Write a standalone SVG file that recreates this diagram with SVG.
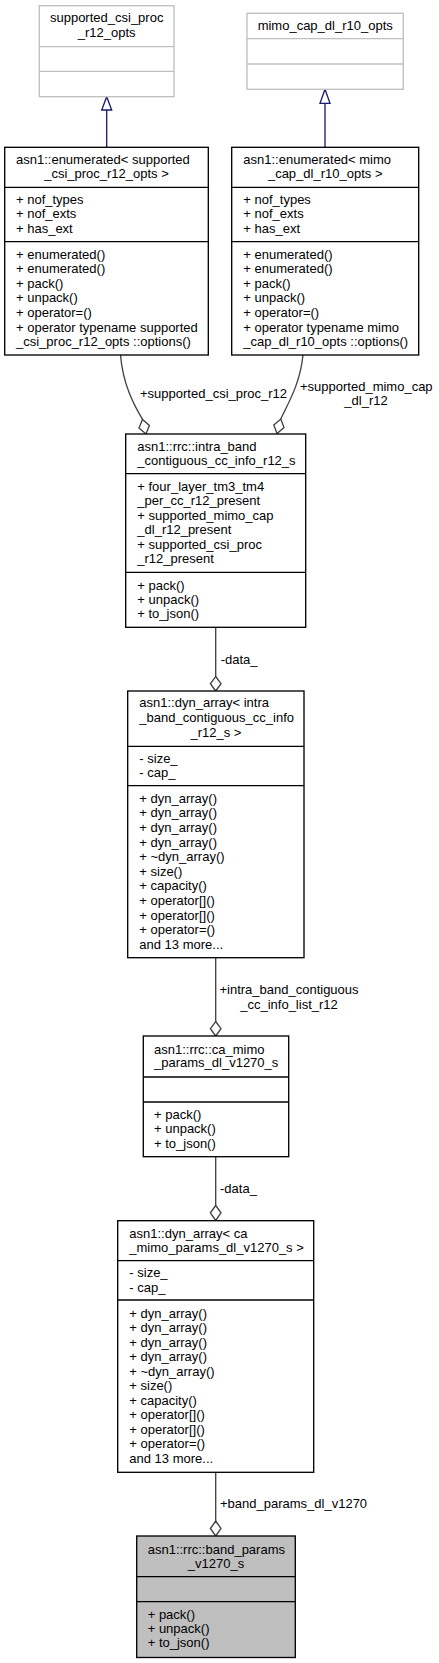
<svg xmlns="http://www.w3.org/2000/svg" width="439" height="1663" viewBox="0 0 439 1663">
<style>
text{font-family:"Liberation Sans",Arial,sans-serif;font-size:13px;fill:#000}
.m{text-anchor:middle}
.box{fill:#fff;stroke:#000;stroke-width:1.33}
.gbox{fill:#fff;stroke:#bfbfbf;stroke-width:1.33}
.cur{fill:#bfbfbf;stroke:#000;stroke-width:1.33}
.sep{stroke:#000;stroke-width:1.33}
.gsep{stroke:#bfbfbf;stroke-width:1.33}
.e{fill:none;stroke:#404040;stroke-width:1.33}
.d{fill:#fff;stroke:#404040;stroke-width:1.33}
.inh{fill:none;stroke:#191970;stroke-width:1.33}
.tri{fill:#fff;stroke:#191970;stroke-width:1.33}
</style>
<rect width="439" height="1663" fill="#fff"/>
<g id="connectors">
<line class="inh" x1="106.7" y1="110" x2="106.7" y2="147.3"/>
<polygon class="tri" points="106.7,96.7 111.7,110 101.7,110"/>
<line class="inh" x1="325" y1="103.3" x2="325" y2="147.3"/>
<polygon class="tri" points="325,89.3 330,103.3 320,103.3"/>
<path class="e" d="M120.5,355 C123,385 134,405 142.5,419.4"/>
<polygon class="d" points="146,434 149.4,425.4 142.5,419.4 139,428"/>
<text x="140" y="398">+supported_csi_proc_r12</text>
<path class="e" d="M303,355 C300,385 287,405 280.8,419"/>
<polygon class="d" points="277,433.5 273.8,424.9 280.8,419 284,427.5"/>
<text class="m" x="366.3" y="391.3">+supported_mimo_cap</text>
<text class="m" x="366" y="405.3">_dl_r12</text>
<line class="e" x1="215.7" y1="627.3" x2="215.7" y2="676.5"/>
<polygon class="d" points="215.7,676.5 221,683.7 215.7,691 210.4,683.7"/>
<text x="220.7" y="664">-data_</text>
<line class="e" x1="215.7" y1="957.7" x2="215.7" y2="1021.5"/>
<polygon class="d" points="215.7,1021.5 221,1028.7 215.7,1036 210.4,1028.7"/>
<text class="m" x="289" y="994">+intra_band_contiguous</text>
<text class="m" x="289" y="1008.7">_cc_info_list_r12</text>
<line class="e" x1="215.7" y1="1156.7" x2="215.7" y2="1205.5"/>
<polygon class="d" points="215.7,1205.5 221,1212.8 215.7,1220.5 210.4,1212.8"/>
<text x="220" y="1193">-data_</text>
<line class="e" x1="215.7" y1="1472.3" x2="215.7" y2="1521"/>
<polygon class="d" points="215.7,1521 221,1528.5 215.7,1536 210.4,1528.5"/>
<text x="220" y="1508">+band_params_dl_v1270</text>
</g>
<g id="supported_csi_proc_r12_opts">
<rect class="gbox" x="39.3" y="5.7" width="134.7" height="91"/>
<line class="gsep" x1="39.3" y1="46.7" x2="174" y2="46.7"/>
<line class="gsep" x1="39.3" y1="71.3" x2="174" y2="71.3"/>
<text class="m" x="106.7" y="22.3">supported_csi_proc</text>
<text class="m" x="106.7" y="37.3">_r12_opts</text>
</g>
<g id="mimo_cap_dl_r10_opts">
<rect class="gbox" x="247" y="13.3" width="156.3" height="76"/>
<line class="gsep" x1="247" y1="38.7" x2="403.3" y2="38.7"/>
<line class="gsep" x1="247" y1="64" x2="403.3" y2="64"/>
<text class="m" x="325.2" y="29.7">mimo_cap_dl_r10_opts</text>
</g>
<g id="enum_supported_csi_proc">
<rect class="box" x="4.7" y="147.3" width="203.6" height="207.7"/>
<line class="sep" x1="4.7" y1="187.3" x2="208.3" y2="187.3"/>
<line class="sep" x1="4.7" y1="241.7" x2="208.3" y2="241.7"/>
<text x="16" y="163.5">asn1::enumerated&lt; supported</text>
<text class="m" x="106.5" y="178.2">_csi_proc_r12_opts &gt;</text>
<text x="16" y="203.5">+ nof_types</text>
<text x="16" y="217.8">+ nof_exts</text>
<text x="16" y="232.8">+ has_ext</text>
<text x="16" y="258.5">+ enumerated()</text>
<text x="16" y="273.1">+ enumerated()</text>
<text x="16" y="287.7">+ pack()</text>
<text x="16" y="302.3">+ unpack()</text>
<text x="16" y="316.9">+ operator=()</text>
<text x="16" y="331.5">+ operator typename supported</text>
<text x="16" y="346.1">_csi_proc_r12_opts ::options()</text>
</g>
<g id="enum_mimo_cap_dl_r10">
<rect class="box" x="231.7" y="147.3" width="187" height="207.7"/>
<line class="sep" x1="231.7" y1="187.3" x2="418.7" y2="187.3"/>
<line class="sep" x1="231.7" y1="241.7" x2="418.7" y2="241.7"/>
<text x="243.3" y="163.5">asn1::enumerated&lt; mimo</text>
<text class="m" x="325.2" y="178.2">_cap_dl_r10_opts &gt;</text>
<text x="243.3" y="203.5">+ nof_types</text>
<text x="243.3" y="217.8">+ nof_exts</text>
<text x="243.3" y="232.8">+ has_ext</text>
<text x="243.3" y="258.5">+ enumerated()</text>
<text x="243.3" y="273.1">+ enumerated()</text>
<text x="243.3" y="287.7">+ pack()</text>
<text x="243.3" y="302.3">+ unpack()</text>
<text x="243.3" y="316.9">+ operator=()</text>
<text x="243.3" y="331.5">+ operator typename mimo</text>
<text x="243.3" y="346.1">_cap_dl_r10_opts ::options()</text>
</g>
<g id="intra_band_contiguous_cc_info_r12_s">
<rect class="box" x="125.7" y="434" width="180" height="193.3"/>
<line class="sep" x1="125.7" y1="473.7" x2="305.7" y2="473.7"/>
<line class="sep" x1="125.7" y1="572.3" x2="305.7" y2="572.3"/>
<text x="137.3" y="450.5">asn1::rrc::intra_band</text>
<text x="137.3" y="464.5">_contiguous_cc_info_r12_s</text>
<text x="137.3" y="490.5">+ four_layer_tm3_tm4</text>
<text x="137.3" y="505.2">_per_cc_r12_present</text>
<text x="137.3" y="519.5">+ supported_mimo_cap</text>
<text x="137.3" y="533.8">_dl_r12_present</text>
<text x="137.3" y="548.5">+ supported_csi_proc</text>
<text x="137.3" y="563.2">_r12_present</text>
<text x="137.3" y="589.5">+ pack()</text>
<text x="137.3" y="603.5">+ unpack()</text>
<text x="137.3" y="617.8">+ to_json()</text>
</g>
<g id="dyn_array_intra_band">
<rect class="box" x="127.7" y="691" width="176.3" height="266.7"/>
<line class="sep" x1="127.7" y1="746.3" x2="304" y2="746.3"/>
<line class="sep" x1="127.7" y1="785.7" x2="304" y2="785.7"/>
<text x="139.3" y="707.2">asn1::dyn_array&lt; intra</text>
<text x="139.3" y="722.2">_band_contiguous_cc_info</text>
<text class="m" x="215.9" y="737.2">_r12_s &gt;</text>
<text x="139.3" y="762.5">- size_</text>
<text x="139.3" y="777.2">- cap_</text>
<text x="139.3" y="802.8">+ dyn_array()</text>
<text x="139.3" y="817.4">+ dyn_array()</text>
<text x="139.3" y="832">+ dyn_array()</text>
<text x="139.3" y="846.6">+ dyn_array()</text>
<text x="139.3" y="861.2">+ ~dyn_array()</text>
<text x="139.3" y="875.8">+ size()</text>
<text x="139.3" y="890.4">+ capacity()</text>
<text x="139.3" y="905">+ operator[]()</text>
<text x="139.3" y="919.6">+ operator[]()</text>
<text x="139.3" y="934.2">+ operator=()</text>
<text x="139.3" y="948.8">and 13 more...</text>
</g>
<g id="ca_mimo_params_dl_v1270_s">
<rect class="box" x="143.3" y="1036" width="145.4" height="120.7"/>
<line class="sep" x1="143.3" y1="1077" x2="288.7" y2="1077"/>
<line class="sep" x1="143.3" y1="1102" x2="288.7" y2="1102"/>
<text x="154" y="1053.5">asn1::rrc::ca_mimo</text>
<text x="154" y="1067.2">_params_dl_v1270_s</text>
<text x="154" y="1118.5">+ pack()</text>
<text x="154" y="1133.1">+ unpack()</text>
<text x="154" y="1147.7">+ to_json()</text>
</g>
<g id="dyn_array_ca_mimo">
<rect class="box" x="117.7" y="1220.7" width="196" height="251.6"/>
<line class="sep" x1="117.7" y1="1260.7" x2="313.7" y2="1260.7"/>
<line class="sep" x1="117.7" y1="1300" x2="313.7" y2="1300"/>
<text x="129.3" y="1237.8">asn1::dyn_array&lt; ca</text>
<text x="129.3" y="1251.8">_mimo_params_dl_v1270_s &gt;</text>
<text x="129.3" y="1277.2">- size_</text>
<text x="129.3" y="1291.8">- cap_</text>
<text x="129.3" y="1317.8">+ dyn_array()</text>
<text x="129.3" y="1332.3">+ dyn_array()</text>
<text x="129.3" y="1346.8">+ dyn_array()</text>
<text x="129.3" y="1361.3">+ dyn_array()</text>
<text x="129.3" y="1375.8">+ ~dyn_array()</text>
<text x="129.3" y="1390.3">+ size()</text>
<text x="129.3" y="1404.8">+ capacity()</text>
<text x="129.3" y="1419.3">+ operator[]()</text>
<text x="129.3" y="1433.8">+ operator[]()</text>
<text x="129.3" y="1448.3">+ operator=()</text>
<text x="129.3" y="1462.8">and 13 more...</text>
</g>
<g id="band_params_v1270_s">
<rect class="cur" x="136.7" y="1536" width="158.6" height="121.5"/>
<line class="sep" x1="136.7" y1="1576.7" x2="295.3" y2="1576.7"/>
<line class="sep" x1="136.7" y1="1601.7" x2="295.3" y2="1601.7"/>
<text x="147.7" y="1553.8">asn1::rrc::band_params</text>
<text class="m" x="216" y="1567.8">_v1270_s</text>
<text x="147.7" y="1618.8">+ pack()</text>
<text x="147.7" y="1632.8">+ unpack()</text>
<text x="147.7" y="1647.2">+ to_json()</text>
</g>
</svg>
